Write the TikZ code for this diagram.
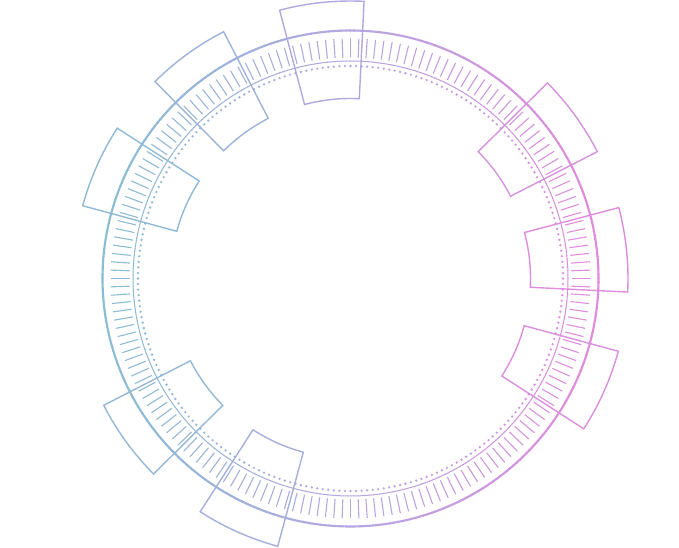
\documentclass[tikz,border=0pt]{standalone}
\definecolor{cL}{HTML}{88BED2}
\definecolor{cM}{HTML}{B6A6E2}
\definecolor{cR}{HTML}{E38ADC}
\newcommand{\gradcol}[1]{%
  \pgfmathtruncatemacro\gT{max(0,min(100,((#1)-100)/5))}%
  \pgfmathtruncatemacro\gA{min(100,2*\gT)}%
  \pgfmathtruncatemacro\gB{max(0,2*\gT-100)}%
  \colorlet{gA}{cM!\gA!cL}%
  \colorlet{gc}{cR!\gB!gA}%
}
\tikzset{
  outerring/.style={line width=2.1pt},
  innerring/.style={line width=1pt},
  tickline/.style={line width=1.1pt},
  sectorbox/.style={line width=1.4pt, line join=miter},
}
\begin{document}
\begin{tikzpicture}[x=1pt,y=1pt]
\useasboundingbox (0,0) rectangle (679,548);
\begin{scope}[shift={(350.5,269.5)}]
  % outer ring
  \foreach \a in {0,...,359}{
    \gradcol{350.5+248*cos(\a+0.5)}
    \draw[outerring, gc] (\a:248pt) arc[start angle=\a, end angle=\a+1.15, radius=248pt];
  }
  % inner thin ring
  \foreach \a in {0,...,359}{
    \gradcol{350.5+217.5*cos(\a+0.5)}
    \draw[innerring, gc] (\a:217.5pt) arc[start angle=\a, end angle=\a+1.15, radius=217.5pt];
  }
  % ticks
  \foreach \a in {0,2,...,358}{
    \gradcol{350.5+230*cos(\a)}
    \draw[tickline, gc] (\a:221pt) -- (\a:240pt);
  }
  % dotted ring
  \foreach \i in {0,...,239}{
    \pgfmathsetmacro\a{\i*1.5}
    \gradcol{350.5+212.5*cos(\a)}
    \fill[gc] (\a:212.5pt) circle[radius=1.3pt];
  }
  % sector boxes
  \foreach \c in {6,36,96,126,156,216,246,336}{
    \pgfmathsetmacro\sa{\c-8.8}
    \pgfmathsetmacro\ea{\c+8.8}
    \gradcol{350.5+228*cos(\c)}
    \draw[sectorbox, gc] (\sa:180pt) arc[start angle=\sa, end angle=\ea, radius=180pt]
      -- (\ea:277.5pt) arc[start angle=\ea, end angle=\sa, radius=277.5pt] -- cycle;
  }
\end{scope}
\end{tikzpicture}
\end{document}
